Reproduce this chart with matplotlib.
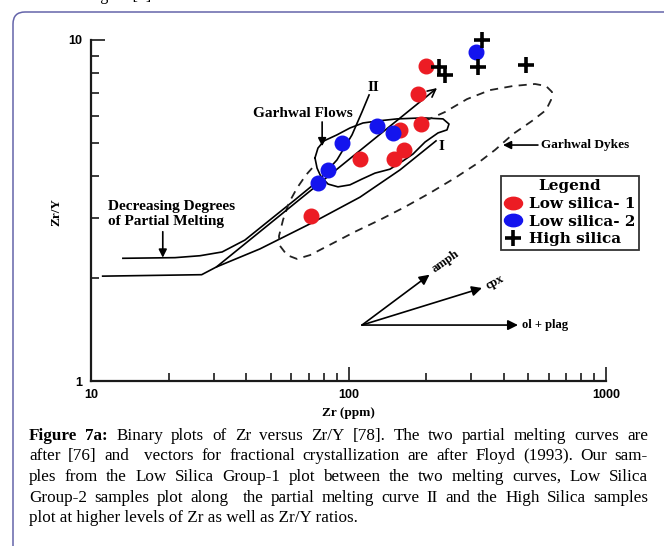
import matplotlib
matplotlib.use("Agg")
import matplotlib.pyplot as plt
from matplotlib.lines import Line2D
from matplotlib.patches import FancyBboxPatch
from matplotlib.path import Path
from matplotlib.ticker import NullFormatter
from matplotlib.transforms import Affine2D, IdentityTransform

# Sample groups: Zr (ppm) and Zr/Y
ls1_zr = [200, 186, 191, 158.5, 164, 150, 111, 71.5]
ls1_zry = [8.39, 6.94, 5.67, 5.45, 4.76, 4.48, 4.48, 3.05]
ls2_zr = [313, 129, 149, 94.4, 83.3, 76.1]
ls2_zry = [9.22, 5.59, 5.34, 4.99, 4.16, 3.81]
hs_zr = [330, 318, 489, 225, 237]
hs_zry = [10.0, 8.33, 8.45, 8.33, 7.90]
group_labels = ["Low silica- 1", "Low silica- 2", "High silica"]

# Partial melting curves I and II, and the straight melting trend
curve1_zr = [11.1, 26.9, 30.7, 45.3, 72.2, 110.8, 158.5, 218.7]
curve1_zry = [2.03, 2.05, 2.16, 2.44, 2.91, 3.46, 4.16, 5.06]
curve2_zr = [13.3, 21.2, 26.5, 32.3, 39.6, 49.6, 62.0, 76.1, 90.2, 103.2, 112.8, 120.2]
curve2_zry = [2.29, 2.30, 2.33, 2.39, 2.59, 2.97, 3.40, 3.86, 4.45, 5.27, 6.15, 6.90]
trend_zr = [30.7, 220.7]
trend_zry = [2.16, 7.23]

# Garhwal Flows field (closed) and Garhwal Dykes field (dashed)
flows_zr = [74.1, 76.1, 80.3, 90.2, 101.3, 113.8, 130.2, 154.3, 194.7, 232.8, 245.6,
            241.3, 222.7, 198.2, 178.0, 162.8, 144.9, 126.7, 112.8, 101.3, 91.0, 83.3,
            78.2, 75.5, 74.1]
flows_zry = [4.51, 4.82, 5.06, 5.27, 5.52, 5.71, 5.79, 5.87, 5.91, 5.87, 5.67,
             5.45, 5.34, 5.02, 4.63, 4.42, 4.18, 4.07, 3.91, 3.76, 3.71, 3.78,
             3.97, 4.21, 4.51]
dykes_zr = [198.2, 237.0, 288.6, 354.5, 435.5, 530.1, 584.8, 617.1, 611.5, 584.8,
            516.0, 435.5, 370.7, 318.4, 259.2, 207.3, 165.8, 132.6, 106.0, 84.8,
            70.9, 63.1, 57.7, 54.2, 53.7, 55.7, 58.7, 63.1, 68.4, 72.2]
dykes_zry = [5.79, 6.15, 6.71, 7.13, 7.33, 7.43, 7.33, 7.04, 6.67, 6.23,
             5.79, 5.30, 4.76, 4.36, 3.94, 3.56, 3.24, 2.97, 2.74, 2.51,
             2.34, 2.28, 2.34, 2.49, 2.66, 2.97, 3.33, 3.68, 4.02, 4.21]

# Fractional crystallisation vectors
vec_origin = (112.8, 1.459)
vec_names = ["amph", "cpx", "ol + plag"]
vec_tip_zr = [206.4, 329.9, 455.2]
vec_tip_zry = [2.05, 1.874, 1.459]

caption_lines = [
    "Binary plots of Zr versus Zr/Y [78]. The two partial melting curves are",
    "after [76] and  vectors for fractional crystallization are after Floyd (1993). Our sam-",
    "ples from the Low Silica Group-1 plot between the two melting curves, Low Silica",
    "Group-2 samples plot along  the partial melting curve II and the High Silica samples",
    "plot at higher levels of Zr as well as Zr/Y ratios.",
]

RED = "#ec1c24"
BLUE = "#1414ee"
SERIF = "Liberation Serif"

W, H = 664, 546
fig = plt.figure(figsize=(W / 100, H / 100), dpi=100)
ax = fig.add_axes([91 / W, 1 - 381 / H, 515 / W, 341 / H])
ax.set_xscale("log")
ax.set_yscale("log")
ax.set_xlim(10, 1000)
ax.set_ylim(1, 10)

for s in ("top", "right"):
    ax.spines[s].set_visible(False)
for s in ("left", "bottom"):
    ax.spines[s].set_linewidth(1.6)
    ax.spines[s].set_color("#1a1a1a")
ax.tick_params(which="both", direction="in", width=1.2, color="#1a1a1a")
ax.tick_params(which="major", length=10, pad=6)
ax.tick_params(which="minor", length=5.5)
ax.set_xticks([10, 100, 1000], ["10", "100", "1000"])
ax.set_yticks([1, 10], ["1", "10"])
ax.xaxis.set_minor_formatter(NullFormatter())
ax.yaxis.set_minor_formatter(NullFormatter())
for lbl in ax.get_xticklabels() + ax.get_yticklabels():
    lbl.set_fontfamily("Liberation Sans")
    lbl.set_fontweight("bold")
    lbl.set_fontsize(9)

ax.set_xlabel("Zr (ppm)", fontfamily=SERIF, fontweight="bold", fontsize=9.5)
ax.xaxis.set_label_coords(0.5, -0.075)
ax.set_ylabel("Zr/Y", fontfamily=SERIF, fontweight="bold", fontsize=9.5)
ax.yaxis.set_label_coords(-0.056, 0.496)

# curves and fields
lw = 1.2
ax.plot(curve1_zr, curve1_zry, color="k", lw=lw)
ax.plot(curve2_zr, curve2_zry, color="k", lw=lw)
ax.annotate("", xy=(trend_zr[1], trend_zry[1]), xytext=(trend_zr[0], trend_zry[0]),
            arrowprops=dict(arrowstyle="->", color="k", lw=lw, mutation_scale=14,
                            shrinkA=0, shrinkB=0))
ax.plot(flows_zr, flows_zry, color="k", lw=lw)
ax.plot(dykes_zr, dykes_zry, color="#222222", lw=1.3, dashes=(4.5, 3.5))

# samples
ax.plot(ls1_zr, ls1_zry, ls="none", marker="o", ms=10.5, mfc=RED, mec=RED, zorder=4, clip_on=False)
ax.plot(ls2_zr, ls2_zry, ls="none", marker="o", ms=10.5, mfc=BLUE, mec=BLUE, zorder=4, clip_on=False)
ax.plot(hs_zr, hs_zry, ls="none", marker="+", ms=11, mew=2.6, color="k", zorder=4, clip_on=False)

# crystallisation vectors
for name, tx, ty in zip(vec_names, vec_tip_zr, vec_tip_zry):
    ax.annotate("", xy=(tx, ty), xytext=vec_origin,
                arrowprops=dict(arrowstyle="-|>", color="k", lw=1.2, mutation_scale=15,
                                shrinkA=0, shrinkB=0))
vec_text = {"amph": ((212.9, 2.116), 35), "cpx": ((345, 1.887), 28), "ol + plag": ((471.9, 1.459), 0)}
for name, (pos, rot) in vec_text.items():
    ax.text(pos[0], pos[1], name, ha="left", va="center", rotation=rot, rotation_mode="anchor",
            fontfamily=SERIF, fontweight="bold", fontsize=9)

# annotations
bold11 = dict(fontfamily=SERIF, fontweight="bold", fontsize=11)
head = dict(arrowstyle="-|>", color="k", lw=1.2, mutation_scale=12, shrinkA=0, shrinkB=0)
ax.text(66.3, 6.07, "Garhwal Flows", ha="center", va="center", **bold11)
ax.annotate("", xy=(79.0, 4.88), xytext=(79.0, 5.75), arrowprops=head)
ax.text(11.6, 3.09, "Decreasing Degrees\nof Partial Melting", ha="left", va="center",
        linespacing=1.15, **bold11)
ax.annotate("", xy=(19.0, 2.30), xytext=(19.0, 2.74), arrowprops=head)
ax.text(559, 4.92, "Garhwal Dykes", ha="left", va="center", fontfamily=SERIF,
        fontweight="bold", fontsize=9.5)
ax.annotate("", xy=(398, 4.92), xytext=(544, 4.92), arrowprops=head)
ax.text(124.5, 7.28, "II", ha="center", va="center", **bold11)
ax.text(230, 4.87, "I", ha="center", va="center", **bold11)

# legend
ellipse = Path.unit_circle().transformed(Affine2D().scale(1.45, 1.0))
handles = [
    Line2D([], [], ls="none", marker=ellipse, ms=13, mfc=RED, mec=RED),
    Line2D([], [], ls="none", marker=ellipse, ms=13, mfc=BLUE, mec=BLUE),
    Line2D([], [], ls="none", marker="+", ms=11, mew=2.6, color="k"),
]
leg = ax.legend(handles, group_labels, title="Legend", loc="upper left",
                bbox_to_anchor=(0.7955, 0.601), borderaxespad=0, fancybox=False,
                edgecolor="#333333", framealpha=1,
                prop={"family": "DejaVu Serif", "weight": "bold", "size": 11},
                title_fontproperties={"family": "DejaVu Serif", "weight": "bold", "size": 11},
                handlelength=1.2, handletextpad=0.45, borderpad=0.22, labelspacing=0.24)
leg.get_frame().set_linewidth(1.3)

# page frame and caption
frame = FancyBboxPatch((13, -30), 700, H - 12 + 30, boxstyle="round,pad=0,rounding_size=12",
                       transform=IdentityTransform(), fill=False, edgecolor="#6464aa", lw=1.1)
fig.add_artist(frame)
fig.text(87 / W, 1 + 0.5 / H, "Figure [5]", va="baseline", fontfamily=SERIF, fontsize=11.5)

renderer = fig.canvas.get_renderer()
cap_font = dict(fontfamily=SERIF, fontsize=12.3)


def word_width(word, **kw):
    if not word:
        return 0.0
    t = fig.text(0, 0, word, **kw)
    w = t.get_window_extent(renderer).width
    t.remove()
    return w


left_px, right_px = 29, 648
baselines = [440, 460.5, 481, 501.5, 522]
for i, line in enumerate(caption_lines):
    words = [(w, "normal") for w in line.split(" ")]
    if i == 0:
        words = [("Figure", "bold"), ("7a:", "bold")] + words
    y = 1 - baselines[i] / H
    if i == len(caption_lines) - 1:
        fig.text(left_px / W, y, line, va="baseline", **cap_font)
        continue
    widths = [word_width(w, fontweight=wt, **cap_font) for w, wt in words]
    gap = (right_px - left_px - sum(widths)) / (len(words) - 1)
    x = left_px
    for (w, wt), ww in zip(words, widths):
        if w:
            fig.text(x / W, y, w, va="baseline", fontweight=wt, **cap_font)
        x += ww + gap

fig.savefig("out.png", dpi=100)
